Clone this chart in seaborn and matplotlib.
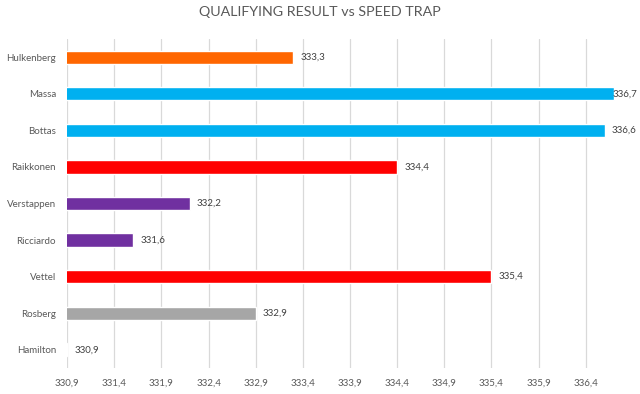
import matplotlib
matplotlib.use("Agg")
import matplotlib.pyplot as plt
import seaborn as sns
import pandas as pd

drivers = ["Hulkenberg", "Massa", "Bottas", "Raikkonen", "Verstappen",
           "Ricciardo", "Vettel", "Rosberg", "Hamilton"]
speeds = [333.3, 336.7, 336.6, 334.4, 332.2, 331.6, 335.4, 332.9, 330.9]
colors = ["#FF6600", "#00B0F0", "#00B0F0", "#FF0000", "#7030A0",
          "#7030A0", "#FF0000", "#A6A6A6", "#A6A6A6"]
xticks = [330.9, 331.4, 331.9, 332.4, 332.9, 333.4, 333.9, 334.4, 334.9,
          335.4, 335.9, 336.4]
title = "QUALIFYING RESULT vs SPEED TRAP"

sns.set_theme(style="white")
plt.rcParams['font.family'] = ['Lato', 'DejaVu Sans']

df = pd.DataFrame({"driver": drivers, "speed": speeds})

fig = plt.figure(figsize=(6.4, 3.94), dpi=100)
ax = fig.add_axes([0.105, 0.066, 0.876, 0.835])
sns.barplot(data=df, x="speed", y="driver", hue="driver",
            palette=dict(zip(drivers, colors)), legend=False,
            width=0.36, ax=ax, zorder=3, saturation=1)

ax.set_xlim(330.9, 336.846)
ax.set_xticks(xticks)
ax.set_xticklabels([f"{t:.1f}".replace(".", ",") for t in xticks])
ax.grid(axis="x", color="#D9D9D9", linewidth=0.9, zorder=0)
ax.grid(axis="y", visible=False)
for s in ax.spines.values():
    s.set_visible(False)
ax.tick_params(axis="both", length=0, labelsize=7, labelcolor="#595959")
ax.tick_params(axis="y", pad=8)
ax.tick_params(axis="x", pad=8)
ax.set_xlabel("")
ax.set_ylabel("")

labels = []
for i, v in enumerate(speeds):
    t = ax.annotate(f"{v:.1f}".replace(".", ","), xy=(v, i), xytext=(5, 0),
                    textcoords="offset points", va="center", ha="left",
                    fontsize=7, color="#404040", zorder=4)
    labels.append(t)

fig.suptitle(title, x=0.5, y=0.985, fontsize=10.3, color="#595959")

# keep labels inside the figure (like Excel does)
fig.canvas.draw()
r = fig.canvas.get_renderer()
W = fig.bbox.width
for t in labels:
    bb = t.get_window_extent(r)
    if bb.x1 > W - 3:
        shift = bb.x1 - (W - 3)
        t.set_position((5 - shift * 72 / fig.dpi, 0))

fig.savefig("out.png", dpi=100)
